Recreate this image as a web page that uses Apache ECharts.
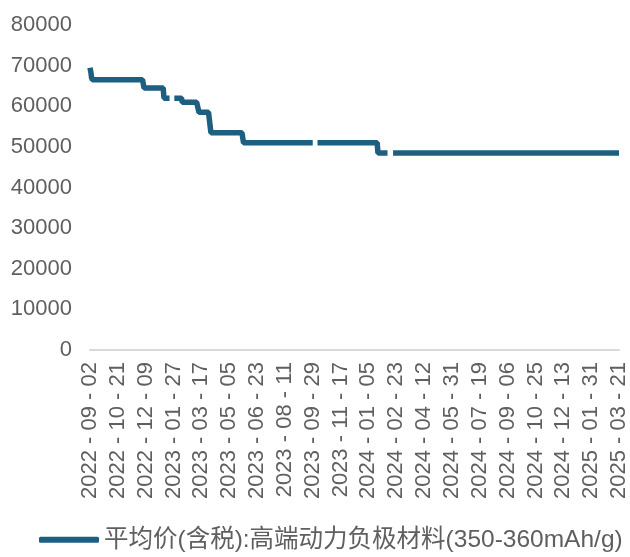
<!DOCTYPE html>
<html>
<head>
<meta charset="utf-8">
<script src="https://cdn.jsdelivr.net/npm/echarts@6/dist/echarts.min.js"></script>
<style>
html,body{margin:0;padding:0;background:#fff;}
#chart{width:630px;height:557px;}
</style>
</head>
<body>
<div id="chart"></div>
<script>
// ---- data ----
const seriesName = '平均价(含税):高端动力负极材料(350-360mAh/g)';
const firstDate = '2022-09-02';
const lastDate = '2025-03-21';
// price levels: each value holds from its start date until the next start date
const runStarts = ['2022-09-02','2022-09-05','2022-09-06','2022-09-07','2022-12-07','2023-01-11','2023-02-13','2023-03-14','2023-04-04','2023-05-31','2024-01-23'];
const runValues = [69500, 68500, 67000, 66500, 64500, 62000, 61000, 58500, 53500, 51000, 48500];
// trading days with no quote (holidays) -> gaps in the line
const gapDates = ['2023-01-23','2023-01-24','2023-01-25','2023-01-26','2023-01-27',
                  '2023-10-02','2023-10-03','2023-10-04','2023-10-05','2023-10-06',
                  '2024-02-09','2024-02-12','2024-02-13','2024-02-14','2024-02-15','2024-02-16'];
const yTicks = [0,10000,20000,30000,40000,50000,60000,70000,80000];

// ---- build weekday category axis ----
function fmt(d){
  const y=d.getUTCFullYear(), m=String(d.getUTCMonth()+1).padStart(2,'0'), dd=String(d.getUTCDate()).padStart(2,'0');
  return y+'-'+m+'-'+dd;
}
const categories = [];
{
  let d = new Date(firstDate+'T00:00:00Z');
  const end = new Date(lastDate+'T00:00:00Z');
  while (d <= end) {
    const wd = d.getUTCDay();
    if (wd !== 0 && wd !== 6) categories.push(fmt(d));
    d = new Date(d.getTime()+86400000);
  }
}
const gapSet = new Set(gapDates);
const values = categories.map(c => {
  if (gapSet.has(c)) return null;
  let v = null;
  for (let i=0;i<runStarts.length;i++){ if (runStarts[i] <= c) v = runValues[i]; }
  return v;
});

const FONT = "'Liberation Sans','Noto Sans CJK SC',sans-serif";
const TXT = '#5f5f5f';
const chart = echarts.init(document.getElementById('chart'));
chart.setOption({
  animation:false,
  backgroundColor:'#ffffff',
  grid:{left:90,right:8,top:25,bottom:207,containLabel:false},
  legend:{
    show:true,
    left:34, bottom:0,
    itemWidth:60, itemHeight:6, itemGap:5,
    icon:'roundRect',
    textStyle:{color:TXT,fontSize:24.5,fontFamily:FONT},
    data:[seriesName]
  },
  xAxis:{
    type:'category',
    data:categories,
    boundaryGap:false,
    axisLine:{show:true,lineStyle:{color:'#d9d9d9',width:2}},
    axisTick:{show:false},
    splitLine:{show:false},
    axisLabel:{interval:34,rotate:90,margin:12,color:TXT,fontSize:22,fontFamily:FONT,
      formatter:v => v.replace(/-/g,' - ')}
  },
  yAxis:{
    type:'value',
    min:yTicks[0], max:yTicks[yTicks.length-1], interval:10000,
    axisLine:{show:false},
    axisTick:{show:false},
    splitLine:{show:false},
    axisLabel:{margin:18,color:TXT,fontSize:22,fontFamily:FONT,formatter:v => String(v)}
  },
  series:[{
    name:seriesName,
    type:'line',
    data:values,
    showSymbol:false,
    connectNulls:false,
    color:'#1c5f80',
    lineStyle:{width:5.5,color:'#1c5f80'}
  }]
});
</script>
</body>
</html>
